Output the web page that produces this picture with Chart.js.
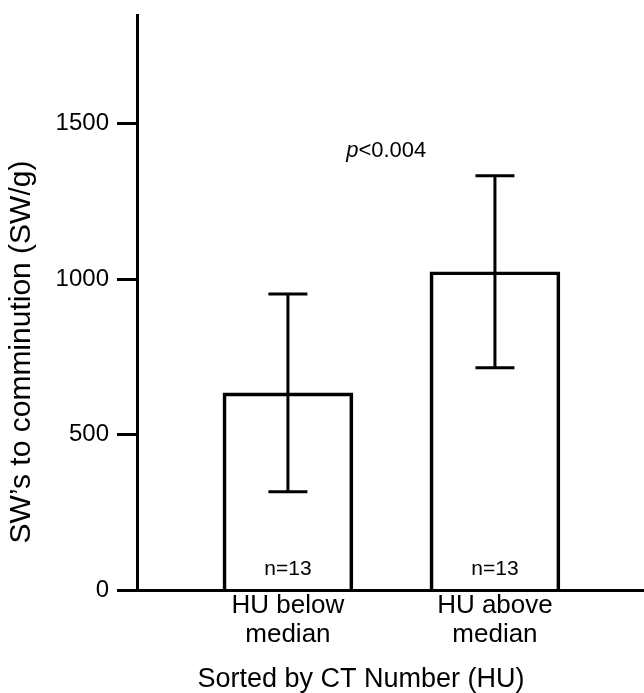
<!DOCTYPE html>
<html><head><meta charset="utf-8">
<script src="https://cdn.jsdelivr.net/npm/chart.js@4.4.0/dist/chart.umd.min.js"></script>
<style>html,body{margin:0;padding:0;background:#fff}#wrap{width:644px;height:693px}</style>
</head><body><div id="wrap"><canvas id="c" width="644" height="693"></canvas></div>
<script>
const categories = [["HU below", "median"], ["HU above", "median"]];
const means = [634, 1024];
const errors = [318, 309];
const sampleSizes = ["n=13", "n=13"];
const yTicks = [0, 500, 1000, 1500];
const pItalic = "p";
const pRest = "<0.004";
const xTitle = "Sorted by CT Number (HU)";
const yTitle = "SW\u2019s to comminution (SW/g)";

const FONT = "'Liberation Sans', Arial, Helvetica, sans-serif";

const annotate = {
  id: 'annotate',
  afterDatasetsDraw(chart) {
    const ctx = chart.ctx, xs = chart.scales.x, ys = chart.scales.y;
    ctx.save();
    ctx.strokeStyle = '#000';
    ctx.lineWidth = 3;
    ctx.lineCap = 'butt';
    means.forEach((m, i) => {
      const x = xs.getPixelForValue(i);
      const yt = ys.getPixelForValue(m + errors[i]);
      const yb = ys.getPixelForValue(m - errors[i]);
      const cap = 19.5;
      ctx.beginPath();
      ctx.moveTo(x, yt); ctx.lineTo(x, yb);
      ctx.moveTo(x - cap, yt); ctx.lineTo(x + cap, yt);
      ctx.moveTo(x - cap, yb); ctx.lineTo(x + cap, yb);
      ctx.stroke();
    });
    ctx.fillStyle = '#000';
    ctx.textBaseline = 'middle';
    ctx.textAlign = 'center';
    ctx.font = "21px " + FONT;
    sampleSizes.forEach((t, i) => {
      ctx.fillText(t, xs.getPixelForValue(i), ys.getPixelForValue(68));
    });
    // p-value
    const cx = xs.getPixelForValue(0.475), cy = ys.getPixelForValue(1414);
    ctx.font = "italic 22px " + FONT;
    const w1 = ctx.measureText(pItalic).width;
    ctx.font = "22px " + FONT;
    const w2 = ctx.measureText(pRest).width;
    const x0 = cx - (w1 + w2) / 2;
    ctx.textAlign = 'left';
    ctx.font = "italic 22px " + FONT;
    ctx.fillText(pItalic, x0, cy);
    ctx.font = "22px " + FONT;
    ctx.fillText(pRest, x0 + w1, cy);
    // axis titles
    ctx.textAlign = 'center';
    ctx.font = "27px " + FONT;
    ctx.fillText(xTitle, 361, 680);
    ctx.save();
    ctx.translate(22, 352);
    ctx.rotate(-Math.PI / 2);
    ctx.font = "30px " + FONT;
    ctx.fillText(yTitle, 0, 0);
    ctx.restore();
    ctx.restore();
  }
};

new Chart(document.getElementById('c'), {
  type: 'bar',
  data: {
    datasets: [{
      data: means.map((v, i) => ({ x: i, y: v })),
      barThickness: 130,
      borderWidth: 3,
      borderColor: '#000',
      backgroundColor: 'rgba(0,0,0,0)',
      borderSkipped: 'bottom'
    }]
  },
  options: {
    responsive: false,
    animation: false,
    layout: { padding: { top: 15, right: 0, bottom: 0, left: 0 } },
    plugins: { legend: { display: false }, tooltip: { enabled: false } },
    scales: {
      x: {
        type: 'linear',
        offset: false,
        min: -0.729, max: 1.72,
        afterBuildTicks: s => { s.ticks = categories.map((c, i) => ({ value: i })); },
        afterFit: s => { s.height = 103; s.paddingLeft = 0; s.paddingRight = 0; },
        grid: { display: true, drawOnChartArea: false, drawTicks: false, offset: false },
        border: { display: true, color: '#000', width: 3 },
        ticks: {
          callback: v => categories[v],
          autoSkip: false, maxRotation: 0, minRotation: 0,
          color: '#000', padding: 2,
          font: { family: FONT, size: 26, lineHeight: 1.1 }
        }
      },
      y: {
        min: 0, max: 1850,
        afterBuildTicks: s => { s.ticks = yTicks.map(v => ({ value: v })); },
        afterFit: s => { s.width = 137; s.paddingTop = 0; s.paddingBottom = 0; },
        grid: { drawOnChartArea: false, drawTicks: true, tickLength: 20, tickWidth: 3, tickColor: '#000' },
        border: { display: true, color: '#000', width: 3 },
        ticks: { color: '#000', padding: 8, font: { family: FONT, size: 24 }, callback: v => String(v) }
      }
    }
  },
  plugins: [annotate]
});
</script>
</body></html>
